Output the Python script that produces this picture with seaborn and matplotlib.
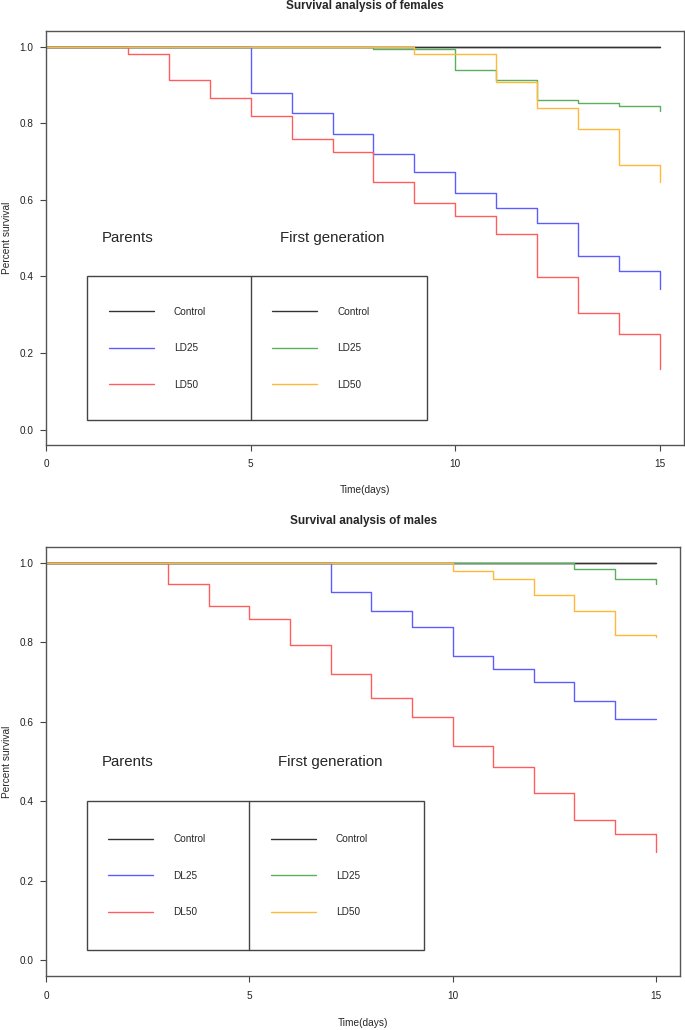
import numpy as np
import pandas as pd
import matplotlib
matplotlib.use("Agg")
import matplotlib.pyplot as plt
import seaborn as sns
from matplotlib.patches import Rectangle

sns.set_style("ticks")
plt.rcParams["font.family"] = ["Liberation Sans", "DejaVu Sans"]

days = list(range(16))

# females, survival at each day 0..15
f_par_control = [1.0] * 16
f_par_ld25 = [1.0, 1.0, 1.0, 1.0, 1.0, 0.880, 0.826, 0.773, 0.719, 0.673,
              0.618, 0.579, 0.540, 0.453, 0.413, 0.366]
f_par_ld50 = [1.0, 1.0, 0.980, 0.914, 0.867, 0.820, 0.760, 0.725, 0.646, 0.592,
              0.558, 0.511, 0.399, 0.305, 0.251, 0.158]
f_gen_control = [1.0] * 16
f_gen_ld25 = [1.0, 1.0, 1.0, 1.0, 1.0, 1.0, 1.0, 1.0, 0.993, 0.993,
              0.940, 0.913, 0.860, 0.854, 0.846, 0.833]
f_gen_ld50 = [1.0, 1.0, 1.0, 1.0, 1.0, 1.0, 1.0, 1.0, 1.0, 0.980,
              0.980, 0.907, 0.840, 0.786, 0.692, 0.646]

# males
m_par_control = [1.0] * 16
m_par_ld25 = [1.0, 1.0, 1.0, 1.0, 1.0, 1.0, 1.0, 0.926, 0.879, 0.839,
              0.766, 0.732, 0.700, 0.653, 0.606, 0.606]
m_par_ld50 = [1.0, 1.0, 1.0, 0.946, 0.891, 0.859, 0.792, 0.720, 0.659, 0.613,
              0.540, 0.486, 0.420, 0.353, 0.319, 0.273]
m_gen_control = [1.0] * 16
m_gen_ld25 = [1.0, 1.0, 1.0, 1.0, 1.0, 1.0, 1.0, 1.0, 1.0, 1.0,
              1.0, 1.0, 1.0, 0.985, 0.959, 0.946]
m_gen_ld50 = [1.0, 1.0, 1.0, 1.0, 1.0, 1.0, 1.0, 1.0, 1.0, 1.0,
              0.979, 0.959, 0.919, 0.879, 0.819, 0.813]

groups = ["par_control", "par_ld25", "par_ld50", "gen_control", "gen_ld25", "gen_ld50"]
colors = ["#333333", "#5c5cff", "#ff5c5c", "#333333", "#5cb05c", "#ffb838"]

female_labels_par = ["Control", "LD25", "LD50"]
female_labels_gen = ["Control", "LD25", "LD50"]
male_labels_par = ["Control", "DL25", "DL50"]
male_labels_gen = ["Control", "LD25", "LD50"]

x_ticks = [0, 5, 10, 15]
y_ticks = [0.0, 0.2, 0.4, 0.6, 0.8, 1.0]


def make_df(series):
    rows = []
    for g, vals in zip(groups, series):
        for d, v in zip(days, vals):
            rows.append({"day": d, "surv": v, "group": g})
    return pd.DataFrame(rows)


def draw_panel(ax, series, title, labels_par, labels_gen):
    df = make_df(series)
    sns.lineplot(data=df, x="day", y="surv", hue="group", hue_order=groups,
                 palette=colors, drawstyle="steps-post", estimator=None,
                 linewidth=1.0, legend=False, ax=ax)

    ax.set_xlim(0, 15.6)
    ax.set_ylim(-0.04, 1.04)
    ax.set_xticks(x_ticks)
    ax.set_xticklabels([str(t) for t in x_ticks])
    ax.set_yticks(y_ticks)
    ax.set_yticklabels(["%.1f" % t for t in y_ticks])
    ax.tick_params(direction="out", length=4.3, width=0.8, colors="#444444",
                   labelsize=7.2, labelcolor="#222222")
    ax.tick_params(axis="x", pad=6)
    ax.tick_params(axis="y", pad=5)
    for s in ax.spines.values():
        s.set_visible(True)
        s.set_color("#555555")
        s.set_linewidth(1.0)

    ax.set_xlabel("Time(days)", fontsize=7.3)
    ax.set_ylabel("Percent survival", fontsize=7.3)
    ax.xaxis.set_label_coords(0.5, -0.098)
    ax.yaxis.set_label_coords(-0.0545, 0.5)
    ax.text(0.5, 1.06, title, transform=ax.transAxes, ha="center", va="center",
            fontsize=8.5, fontweight="bold")

    # legend box split in two halves
    ax.add_patch(Rectangle((1, 0.025), 8.3, 0.375, fill=False,
                           edgecolor="#444444", linewidth=1.0))
    ax.plot([5, 5], [0.025, 0.40], color="#444444", linewidth=1.0)
    ax.text(2, 0.5, "Parents", ha="center", va="center", fontsize=10.8)
    ax.text(7, 0.5, "First generation", ha="center", va="center", fontsize=10.8)

    lines = ax.lines
    leg1 = ax.legend(lines[0:3], labels_par, loc="center left",
                     bbox_to_anchor=(1.53, 0.2125), bbox_transform=ax.transData,
                     frameon=False, fontsize=7.2, handlelength=4.5,
                     handletextpad=2.0, labelspacing=2.65, borderpad=0,
                     borderaxespad=0)
    ax.add_artist(leg1)
    ax.legend(lines[3:6], labels_gen, loc="center left",
              bbox_to_anchor=(5.53, 0.2125), bbox_transform=ax.transData,
              frameon=False, fontsize=7.2, handlelength=4.5,
              handletextpad=2.0, labelspacing=2.65, borderpad=0,
              borderaxespad=0)


fig = plt.figure(figsize=(6.85, 10.3), dpi=100)
ax1 = fig.add_axes([0.0676, 0.5680, 0.9314, 0.4016])
ax2 = fig.add_axes([0.0676, 0.0521, 0.9251, 0.4171])

draw_panel(ax1, [f_par_control, f_par_ld25, f_par_ld50,
                 f_gen_control, f_gen_ld25, f_gen_ld50],
           "Survival analysis of females", female_labels_par, female_labels_gen)
draw_panel(ax2, [m_par_control, m_par_ld25, m_par_ld50,
                 m_gen_control, m_gen_ld25, m_gen_ld50],
           "Survival analysis of males", male_labels_par, male_labels_gen)

fig.savefig("out.png", dpi=100)
